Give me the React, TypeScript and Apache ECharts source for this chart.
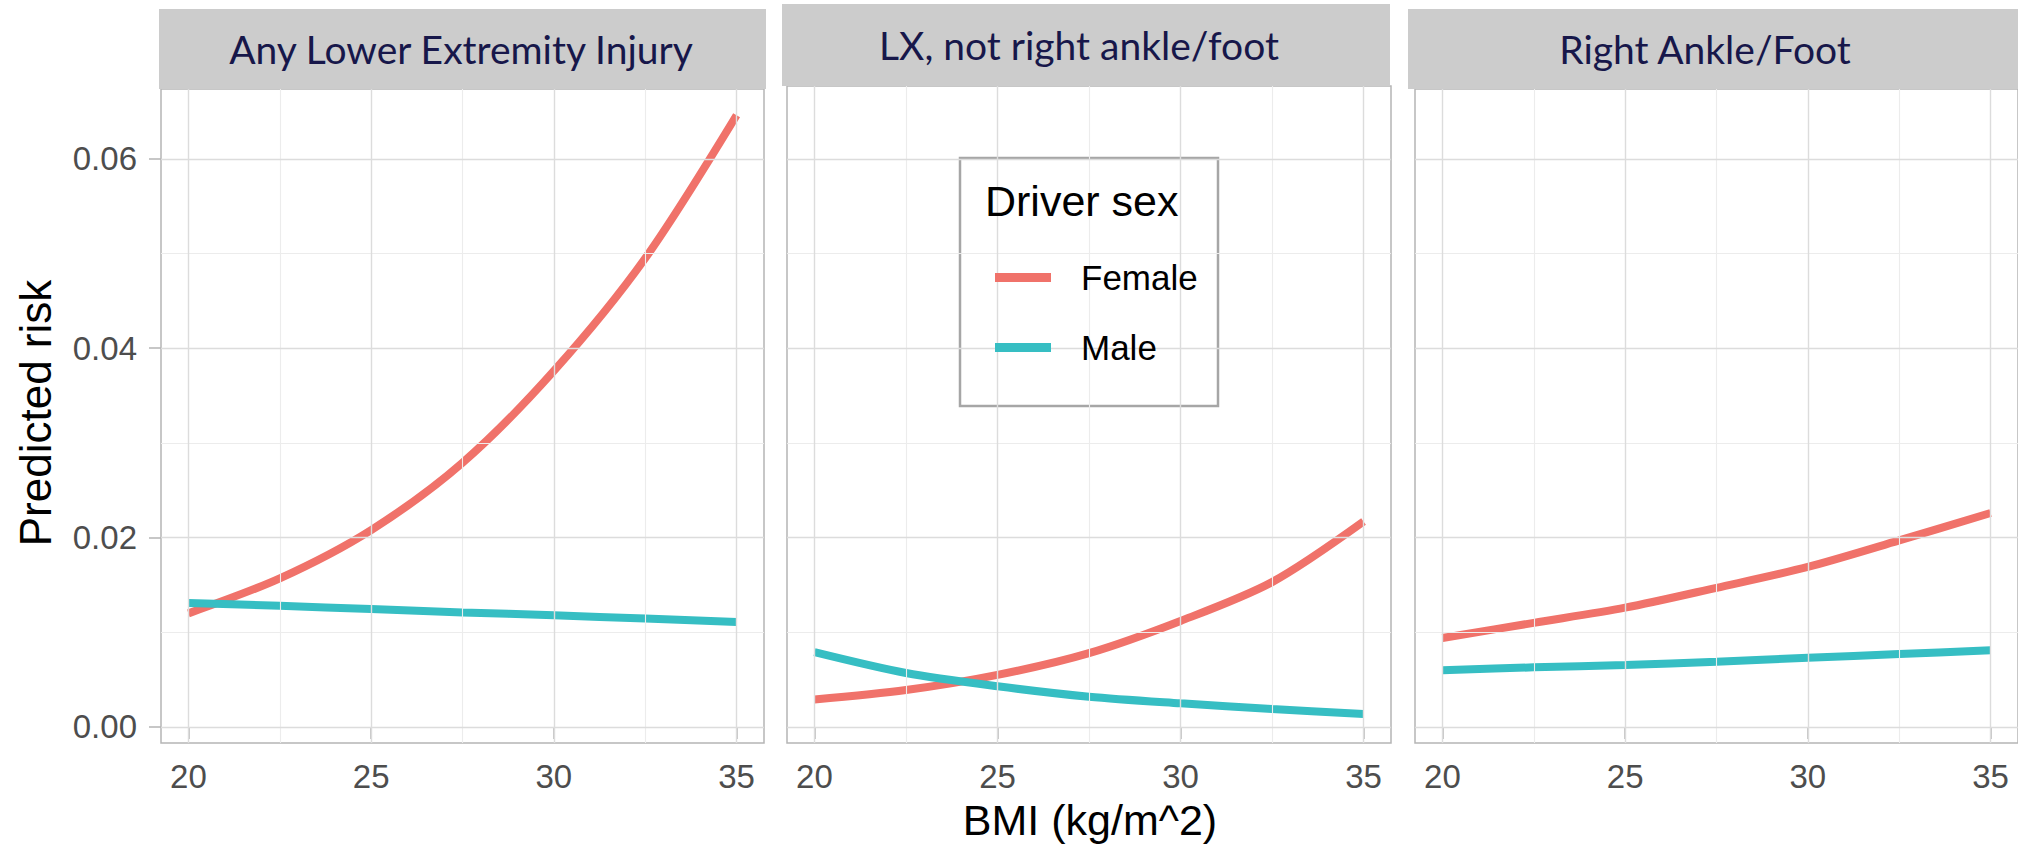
import React, { useEffect, useRef } from "react";
import * as echarts from "echarts";

const bmi = [20, 22.5, 25, 27.5, 30, 32.5, 35];
const panelTitles = ["Any Lower Extremity Injury", "LX, not right ankle/foot", "Right Ankle/Foot"];
const sexes = ["Female", "Male"];
const femaleAny = [0.012, 0.0157, 0.0208, 0.0279, 0.0376, 0.0495, 0.0646];
const maleAny = [0.0131, 0.0128, 0.01245, 0.0121, 0.0118, 0.01145, 0.0111];
const femaleLx = [0.0029, 0.0039, 0.0055, 0.0078, 0.0112, 0.0153, 0.0217];
const maleLx = [0.0079, 0.0057, 0.0043, 0.0032, 0.0025, 0.0019, 0.00137];
const femaleRaf = [0.0094, 0.011, 0.0126, 0.0147, 0.0169, 0.0197, 0.0226];
const maleRaf = [0.006, 0.0063, 0.00655, 0.0069, 0.0073, 0.0077, 0.0081];
const xTicks = [20, 25, 30, 35];
const xMinor = [22.5, 27.5, 32.5];
const yTicks = [0, 0.02, 0.04, 0.06];
const yMinor = [0.01, 0.03, 0.05];
const xTitle = "BMI (kg/m^2)";
const yTitle = "Predicted risk";
const legendTitle = "Driver sex";

const FEMALE = "#F0726A";
const MALE = "#36BEC3";

export default function App() {
  const ref = useRef<HTMLDivElement>(null);
  useEffect(() => {
    document.body.style.margin = "0";
    const chart = echarts.init(ref.current!, null, { renderer: "svg" });

    const grids = [
      { left: 161, top: 89, width: 603, height: 654, ymax: 0.06737 },
      { left: 787, top: 86, width: 604, height: 657, ymax: 0.06769 },
      { left: 1415, top: 89, width: 603, height: 654, ymax: 0.06737 },
    ];
    const strips = [
      { x: 159, y: 9, w: 607, h: 80, tx: 461 },
      { x: 782, y: 4, w: 608, h: 82, tx: 1079 },
      { x: 1408, y: 9, w: 610, h: 80, tx: 1705 },
    ];
    const panelData = [
      [femaleAny, maleAny],
      [femaleLx, maleLx],
      [femaleRaf, maleRaf],
    ];

    const major = { color: "#DCDCDC", width: 1.4, type: "solid" };
    const minor = { color: "#ECECEC", width: 1.1, type: "solid" };

    const series: any[] = [];
    grids.forEach((g, i) => {
      series.push({
        type: "line",
        name: "grid" + i,
        xAxisIndex: i,
        yAxisIndex: i,
        data: [],
        z: 1,
        silent: true,
        markLine: {
          silent: true,
          symbol: ["none", "none"],
          label: { show: false },
          emphasis: { disabled: true },
          data: [
            ...xMinor.map((v) => ({ xAxis: v, lineStyle: minor })),
            ...yMinor.map((v) => ({ yAxis: v, lineStyle: minor })),
            ...xTicks.map((v) => ({ xAxis: v, lineStyle: major })),
            ...yTicks.map((v) => ({ yAxis: v, lineStyle: major })),
          ],
        },
      });
      panelData[i].forEach((vals, k) => {
        const c = k === 0 ? FEMALE : MALE;
        series.push({
          type: "line",
          name: sexes[k],
          xAxisIndex: i,
          yAxisIndex: i,
          data: bmi.map((x, j) => [x, vals[j]]),
          smooth: 0.3,
          showSymbol: false,
          z: 2,
          itemStyle: { color: c },
          lineStyle: { color: c, width: 8, cap: "butt" },
        });
      });
    });

    const graphic: any[] = [];
    strips.forEach((s, i) => {
      graphic.push({
        type: "rect",
        z: 5,
        shape: { x: s.x, y: s.y, width: s.w, height: s.h },
        style: { fill: "#CCCCCC" },
      });
      graphic.push({
        type: "text",
        z: 6,
        x: s.tx,
        y: s.y + s.h / 2,
        style: {
          text: panelTitles[i],
          fill: "#17174A",
          font: "39px Lato, 'Open Sans', sans-serif",
          align: "center",
          verticalAlign: "middle",
        },
      });
    });
    graphic.push({
      type: "text",
      z: 6,
      x: 1090,
      y: 820,
      style: {
        text: xTitle,
        fill: "#000",
        font: "43px 'Liberation Sans', Arial, sans-serif",
        align: "center",
        verticalAlign: "middle",
      },
    });
    graphic.push({
      type: "text",
      z: 6,
      x: 35,
      y: 413,
      rotation: Math.PI / 2,
      style: {
        text: yTitle,
        fill: "#000",
        font: "44px 'Liberation Sans', Arial, sans-serif",
        align: "center",
        verticalAlign: "middle",
      },
    });
    graphic.push({
      type: "rect",
      z: 3,
      shape: { x: 960, y: 158, width: 258, height: 248 },
      style: { fill: "#fff", stroke: "#A6A6A6", lineWidth: 2.5 },
    });
    graphic.push({
      type: "text",
      z: 6,
      x: 985,
      y: 201,
      style: {
        text: legendTitle,
        fill: "#000",
        font: "43px 'Liberation Sans', Arial, sans-serif",
        align: "left",
        verticalAlign: "middle",
      },
    });

    const option: any = {
      animation: false,
      backgroundColor: "#fff",
      grid: grids.map((g) => ({
        left: g.left,
        top: g.top,
        width: g.width,
        height: g.height,
        show: true,
        backgroundColor: "#fff",
        borderColor: "#B5B5B5",
        borderWidth: 1.5,
      })),
      xAxis: grids.map((g, i) => ({
        type: "value",
        gridIndex: i,
        min: 19.25,
        max: 35.75,
        axisLine: { show: false },
        splitLine: { show: false },
        axisTick: {
          show: true,
          customValues: xTicks,
          length: 12,
          lineStyle: { color: "#B5B5B5", width: 1.5 },
        },
        axisLabel: {
          customValues: xTicks,
          color: "#4D4D4D",
          fontSize: 33,
          fontFamily: "'Liberation Sans', Arial, sans-serif",
          margin: 17,
        },
      })),
      yAxis: grids.map((g, i) => ({
        type: "value",
        gridIndex: i,
        min: -0.00169,
        max: g.ymax,
        axisLine: { show: false },
        splitLine: { show: false },
        axisTick: {
          show: i === 0,
          customValues: yTicks,
          length: 12,
          lineStyle: { color: "#B5B5B5", width: 1.5 },
        },
        axisLabel: {
          show: i === 0,
          customValues: yTicks,
          formatter: (v: number) => v.toFixed(2),
          color: "#4D4D4D",
          fontSize: 33,
          fontFamily: "'Liberation Sans', Arial, sans-serif",
          margin: 24,
        },
      })),
      legend: {
        data: sexes,
        orient: "vertical",
        left: 990,
        top: 255,
        itemWidth: 56,
        itemHeight: 9,
        itemGap: 35,
        icon: "rect",
        selectedMode: false,
        z: 7,
        textStyle: {
          fontSize: 35,
          color: "#000",
          fontFamily: "'Liberation Sans', Arial, sans-serif",
          padding: [0, 0, 0, 25],
        },
      },
      graphic,
      series,
    };
    chart.setOption(option);
    return () => chart.dispose();
  }, []);
  return <div ref={ref} style={{ width: 2018, height: 846 }} />;
}
